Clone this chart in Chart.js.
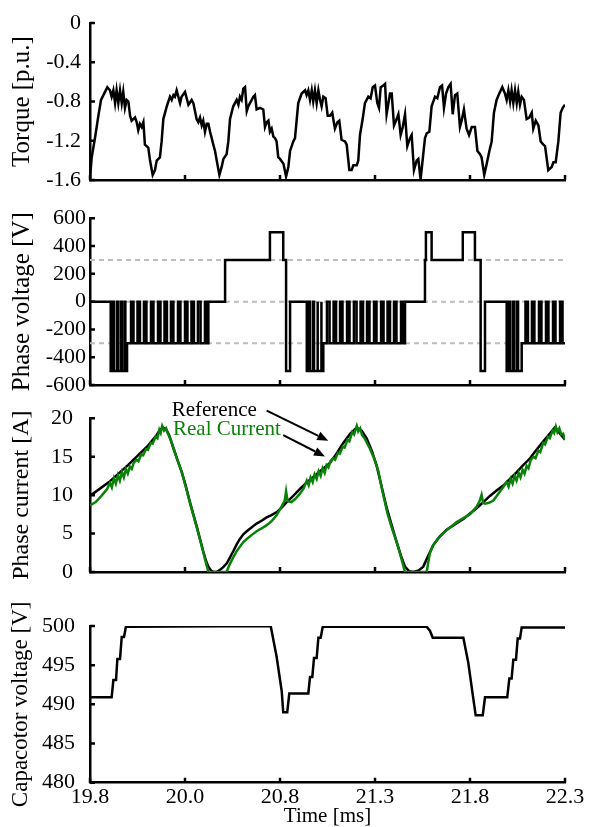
<!DOCTYPE html>
<html><head><meta charset="utf-8">
<script src="https://cdn.jsdelivr.net/npm/chart.js@4.4.1/dist/chart.umd.min.js"></script>
<style>
html,body{margin:0;padding:0;background:#fff;}
body{width:589px;height:827px;position:relative;overflow:hidden;}
canvas{position:absolute;left:0;}
</style></head><body>
<canvas id="c1" width="589" height="200" style="top:0px"></canvas>
<canvas id="c2" width="589" height="200" style="top:200px"></canvas>
<canvas id="c3" width="589" height="210" style="top:390px"></canvas>
<canvas id="c4" width="589" height="227" style="top:600px"></canvas>
<script>
// ---------------- data ----------------
const X_MIN = 19.8, X_MAX = 22.3;
const xTickValues = [19.8, 20.3, 20.8, 21.3, 21.8, 22.3];
const xTickLabels = ['19.8', '20.0', '20.8', '21.3', '21.8', '22.3'];
const xTitle = 'Time [ms]';

const torqueTicks = [0, -0.4, -0.8, -1.2, -1.6];
const torqueTickLabels = ['0', '-0.4', '-0.8', '-1.2', '-1.6'];
const torqueTime = [19.8,19.809,19.826,19.844,19.858,19.879,19.891,19.905,19.914,19.923,19.932,19.940,19.949,19.958,19.967,19.975,19.984,19.993,20.002,20.011,20.019,20.028,20.037,20.046,20.054,20.063,20.072,20.081,20.089,20.098,20.107,20.116,20.130,20.142,20.151,20.168,20.177,20.186,20.204,20.221,20.230,20.239,20.247,20.256,20.274,20.282,20.300,20.318,20.335,20.344,20.361,20.370,20.379,20.388,20.396,20.405,20.414,20.423,20.432,20.449,20.458,20.467,20.481,20.493,20.502,20.519,20.528,20.537,20.554,20.572,20.581,20.589,20.598,20.607,20.616,20.625,20.633,20.642,20.660,20.668,20.677,20.695,20.712,20.721,20.730,20.739,20.747,20.756,20.765,20.774,20.782,20.791,20.800,20.818,20.832,20.844,20.853,20.870,
20.879,20.896,20.914,20.932,20.940,20.949,20.958,20.967,20.975,20.984,20.993,21.002,21.011,21.019,21.028,21.040,21.051,21.063,21.075,21.089,21.102,21.112,21.124,21.142,21.151,21.165,21.177,21.186,21.204,21.212,21.221,21.235,21.247,21.265,21.277,21.288,21.300,21.312,21.321,21.330,21.344,21.353,21.361,21.379,21.388,21.400,21.414,21.423,21.435,21.446,21.458,21.470,21.484,21.493,21.505,21.519,21.528,21.540,21.554,21.563,21.572,21.586,21.598,21.616,21.628,21.642,21.653,21.663,21.674,21.686,21.698,21.709,21.721,21.733,21.747,21.756,21.768,21.782,21.795,21.809,21.826,21.839,21.853,21.861,21.875,21.888,21.902,21.914,21.926,21.940,21.954,21.970,21.984,21.993,22.002,22.011,22.019,22.028,22.037,22.046,22.054,22.063,22.072,22.084,22.098,22.112,22.125,22.133,22.146,22.160,22.172,22.186,22.195,22.212,22.230,22.239,22.251,22.265,22.277,22.288,22.300];
const torqueValue = [-1.580,-1.369,-1.174,-0.946,-0.784,-0.702,-0.654,-0.686,-0.751,-0.686,-0.816,-0.686,-0.816,-0.686,-0.816,-0.702,-0.865,-0.784,-0.800,-0.946,-0.995,-0.979,-0.963,-1.011,-1.093,-1.028,-1.060,-1.011,-1.239,-1.255,-1.272,-1.402,-1.548,-1.499,-1.402,-1.369,-1.207,-0.979,-0.849,-0.751,-0.784,-0.735,-0.751,-0.686,-0.816,-0.751,-0.702,-0.833,-0.784,-0.816,-0.979,-1.011,-0.963,-1.044,-0.995,-1.109,-1.028,-1.028,-1.109,-1.239,-1.304,-1.402,-1.548,-1.467,-1.385,-1.337,-1.207,-0.979,-0.849,-0.784,-0.833,-0.751,-0.784,-0.670,-0.654,-0.898,-0.849,-0.816,-0.751,-0.735,-0.881,-0.865,-0.881,-1.060,-1.011,-0.995,-1.109,-1.076,-1.158,-1.174,-1.207,-1.369,-1.385,-1.434,-1.564,-1.467,-1.304,-1.207,
-1.174,-0.816,-0.719,-0.686,-0.735,-0.686,-0.784,-0.686,-0.800,-0.686,-0.816,-0.686,-0.784,-0.849,-0.751,-0.767,-0.946,-0.946,-0.914,-1.076,-1.011,-0.995,-1.190,-1.207,-1.239,-1.499,-1.499,-1.450,-1.450,-1.402,-1.141,-0.979,-0.816,-0.751,-0.767,-0.654,-0.637,-0.816,-0.865,-0.654,-0.637,-0.621,-0.930,-0.719,-0.719,-1.044,-0.979,-0.930,-1.141,-1.060,-0.930,-1.255,-1.174,-1.141,-1.499,-1.402,-1.385,-1.597,-1.337,-1.174,-1.125,-1.109,-0.849,-0.751,-0.767,-0.654,-0.637,-0.865,-0.719,-0.654,-0.621,-0.930,-0.735,-0.719,-1.060,-0.995,-0.881,-1.076,-1.141,-1.060,-1.060,-1.304,-1.337,-1.369,-1.548,-1.434,-1.304,-1.207,-0.914,-0.784,-0.719,-0.654,-0.719,-0.784,-0.686,-0.800,-0.686,-0.816,-0.686,-0.816,-0.702,-0.833,-0.751,-0.784,-0.979,-0.963,-0.914,-1.076,-0.995,-1.044,-1.207,-1.239,-1.255,-1.499,-1.467,-1.418,-1.418,-1.207,-0.914,-0.865,-0.833];

const voltTicks = [600, 400, 200, 0, -200, -400, -600];
const voltTickLabels = ['600', '400', '200', '0', '-200', '-400', '-600'];
const voltRefLevels = [300, 0, -300];
// switching instants (ms) and the level the phase voltage takes from that instant on (V)
const voltChangeTime = [19.8,19.909,19.921,19.926,19.942,19.947,19.962,19.967,19.981,19.986,19.995,
20.016,20.029,20.050,20.063,20.084,20.097,20.121,20.134,20.158,20.171,20.192,20.205,20.226,20.239,20.263,20.276,20.300,20.313,20.334,20.347,20.368,20.382,20.405,20.413,20.423,
20.511,20.747,20.817,20.832,20.853,
20.941,20.953,20.958,20.974,20.979,20.995,21.000,21.016,21.019,21.028,
21.047,21.061,21.082,21.095,21.116,21.129,21.153,21.166,21.189,21.203,21.224,21.237,21.258,21.271,21.295,21.308,21.332,21.345,21.366,21.379,21.400,21.413,21.437,21.447,21.458,
21.563,21.568,21.598,21.762,21.826,21.856,21.879,
21.993,22.005,22.011,22.026,22.032,22.047,22.053,22.072,
22.092,22.105,22.126,22.139,22.163,22.176,22.200,22.213,22.237,22.250,22.274,22.287,22.300];
const voltChangeValue = [0,-500,0,-500,0,-500,0,-500,0,-500,-300,
0,-300,0,-300,0,-300,0,-300,0,-300,0,-300,0,-300,0,-300,0,-300,0,-300,0,-300,0,-300,0,
300,500,300,-500,0,
-500,0,-500,0,-500,0,-500,0,-500,-300,
0,-300,0,-300,0,-300,0,-300,0,-300,0,-300,0,-300,0,-300,0,-300,0,-300,0,-300,0,-300,0,
300,500,300,500,300,-500,0,
-500,0,-500,0,-500,0,-500,-300,
0,-300,0,-300,0,-300,0,-300,0,-300,0,-300,-300];

const currentTicks = [20, 15, 10, 5, 0];
const currentTickLabels = ['20', '15', '10', '5', '0'];
const refCurrentTime = [19.8,19.9,20.0,20.1,20.15,20.168,20.185,20.2,20.215,20.238,20.26,20.283,20.305,20.326,20.345,20.362,20.38,20.396,20.41,20.423,20.437,20.45,20.465,20.48,20.5,20.519,20.537,20.554,20.572,20.589,20.607,20.625,20.65,20.677,20.705,20.73,20.755,20.783,20.81,20.835,20.87,20.905,20.941,21.0,21.063,21.1,21.133,21.17,21.204,21.23,21.256,21.283,21.309,21.335,21.362,21.39,21.414,21.437,21.458,21.48,21.502,21.53,21.554,21.58,21.607,21.64,21.677,21.72,21.765,21.8,21.835,21.87,21.905,21.94,21.975,22.01,22.046,22.08,22.116,22.15,22.186,22.22,22.247,22.274,22.3];
const refCurrentValue = [9.9,11.7,13.9,16.3,17.8,18.5,18.8,18.6,17.9,16.2,14.6,13.0,11.1,9.1,7.4,5.9,4.2,2.7,1.5,0.7,0.2,0.0,0.0,0.2,0.6,1.1,1.9,2.7,3.6,4.3,4.9,5.3,5.8,6.3,6.7,7.1,7.4,7.8,8.4,9.1,9.9,10.8,11.65,12.9,14.2,15.5,16.8,18.0,18.8,18.4,17.4,15.8,13.8,11.1,8.3,5.9,3.9,2.1,0.7,0.1,0.0,0.2,0.7,2.1,3.5,4.6,5.5,6.2,6.9,7.6,8.3,9.1,9.9,10.6,11.25,12.1,13.0,13.9,14.8,15.9,17.0,18.0,18.8,18.0,17.2];
const realCurrentTime = [19.8,19.83,19.86,19.89,19.905,19.915,19.926,19.936,19.947,19.957,19.968,19.978,19.989,19.999,20.01,20.02,20.03,20.045,20.055,20.07,20.08,20.095,20.105,20.12,20.13,20.145,20.155,20.165,20.172,20.18,20.19,20.2,20.21,20.225,20.238,20.26,20.283,20.305,20.326,20.345,20.362,20.38,20.396,20.41,20.423,20.519,20.535,20.554,20.572,20.589,20.607,20.625,20.65,20.677,20.705,20.73,20.755,20.783,20.81,20.825,20.832,20.84,20.86,20.88,20.905,20.925,20.941,20.951,20.961,20.972,20.982,20.993,21.003,21.014,21.024,21.035,21.045,21.055,21.065,21.08,21.09,21.105,21.115,21.13,21.14,21.155,21.165,21.18,21.19,21.204,21.212,21.222,21.232,21.245,21.274,21.295,21.317,21.34,21.367,21.39,21.414,21.437,21.458,21.572,21.589,21.606,21.63,21.661,21.695,21.73,21.765,21.8,21.835,21.85,21.861,21.869,21.879,21.9,21.923,21.95,21.975,21.993,22.003,22.014,22.024,22.035,22.045,22.056,22.066,22.077,22.087,22.098,22.108,22.12,22.135,22.145,22.16,22.17,22.185,22.195,22.21,22.22,22.235,22.243,22.252,22.26,22.27,22.28,22.29,22.3];
const realCurrentValue = [8.67,9.1,9.9,10.8,11.6,11.0,12.2,11.5,12.6,11.9,13.0,12.3,13.4,12.8,13.7,13.4,14.2,14.6,14.4,15.3,15.2,16.0,15.9,16.8,16.7,17.6,17.4,18.5,18.1,19.0,18.4,18.7,18.0,17.2,16.2,14.6,13.0,11.0,9.0,7.3,5.8,4.1,2.6,1.2,0.0,0.0,1.0,1.9,2.7,3.3,3.9,4.3,4.8,5.3,5.7,6.1,6.6,7.4,8.6,9.3,10.5,9.2,9.1,9.5,10.2,10.9,11.9,11.3,12.3,11.7,12.7,12.1,13.1,12.5,13.5,12.9,13.9,13.6,14.4,14.8,14.6,15.5,15.4,16.3,16.2,17.2,17.0,18.2,17.9,19.0,18.3,18.7,17.8,17.4,16.0,14.8,13.2,10.4,7.5,5.6,3.9,1.9,0.0,0.0,2.5,3.5,4.3,5.1,5.8,6.5,7.0,7.5,8.5,9.2,10.05,9.0,8.9,9.0,9.3,10.2,11.05,11.7,11.1,12.1,11.5,12.5,11.9,12.9,12.3,13.3,12.8,13.8,13.5,14.6,15.0,14.8,15.8,15.6,16.8,16.6,17.6,17.4,18.4,18.1,18.9,18.2,18.7,17.9,18.0,17.2];
const noteRefText = 'Reference', noteRealText = 'Real Current';
const noteRefAt = [20.230, 20.31], noteRealAt = [20.237, 17.81];
const arrowRefFrom = [20.730, 20.99], arrowRefTo = [21.054, 17.09];
const arrowRealFrom = [20.817, 17.81], arrowRealTo = [21.037, 15.03];

const capTicks = [500, 495, 490, 485, 480];
const capTickLabels = ['500', '495', '490', '485', '480'];
const capTime = [19.8,19.914,19.923,19.937,19.944,19.958,19.967,19.979,19.989,20.751,20.782,20.809,20.817,20.838,20.849,20.949,20.958,20.970,20.979,20.993,21.002,21.014,21.025,21.572,21.589,21.604,21.765,21.791,21.814,21.830,21.867,21.879,21.996,22.007,22.019,22.028,22.042,22.051,22.063,22.072,22.3];
const capValue = [490.9,490.9,493.1,493.1,495.8,495.8,498.6,498.6,499.9,500.0,496.1,491.7,489.0,489.0,491.4,491.4,493.5,493.5,495.9,495.9,498.5,498.5,499.9,499.9,499.4,498.5,498.5,495.3,491.3,488.6,488.6,490.9,490.9,493.3,493.3,495.7,495.7,498.4,498.4,499.8,499.8];

// ---------------- helpers ----------------
const FONT = "'Liberation Serif','Times New Roman',serif";
const GREEN = '#0a820a';
function pts(ts, vs) { const n = Math.min(ts.length, vs.length), a = []; for (let i = 0; i < n; i++) a.push({x: ts[i], y: vs[i]}); return a; }
function stepPts(ts, vs) { const n = Math.min(ts.length, vs.length), a = []; for (let i = 0; i < n; i++) { if (i > 0) a.push({x: ts[i], y: vs[i - 1]}); a.push({x: ts[i], y: vs[i]}); } return a; }
function hLine(level) { return [{x: X_MIN, y: level}, {x: X_MAX, y: level}]; }

const inwardTicks = {
  id: 'inwardTicks',
  afterDraw(chart) {
    const ctx = chart.ctx, ca = chart.chartArea, xs = chart.scales.x, ys = chart.scales.y;
    ctx.save(); ctx.strokeStyle = '#000'; ctx.lineWidth = 2.5; ctx.beginPath();
    xs.ticks.forEach(t => { const p = xs.getPixelForValue(t.value); ctx.moveTo(p, ca.bottom); ctx.lineTo(p, ca.bottom - 5); });
    ys.ticks.forEach(t => { const p = ys.getPixelForValue(t.value); ctx.moveTo(ca.left, p); ctx.lineTo(ca.left + 5, p); });
    ctx.stroke(); ctx.restore();
  }
};
function arrow(ctx, a, b) {
  const ang = Math.atan2(b[1] - a[1], b[0] - a[0]), L = 11, W = 4.5;
  const bx = b[0] - L * Math.cos(ang), by = b[1] - L * Math.sin(ang);
  ctx.strokeStyle = '#000'; ctx.lineWidth = 2; ctx.beginPath(); ctx.moveTo(a[0], a[1]); ctx.lineTo(bx, by); ctx.stroke();
  ctx.fillStyle = '#000'; ctx.beginPath(); ctx.moveTo(b[0], b[1]);
  ctx.lineTo(bx - W * Math.sin(ang), by + W * Math.cos(ang)); ctx.lineTo(bx + W * Math.sin(ang), by - W * Math.cos(ang)); ctx.closePath(); ctx.fill();
}
const currentNotes = {
  id: 'currentNotes',
  afterDraw(chart) {
    const ctx = chart.ctx, xs = chart.scales.x, ys = chart.scales.y;
    const P = a => [xs.getPixelForValue(a[0]), ys.getPixelForValue(a[1])];
    ctx.save(); ctx.font = '21px ' + FONT; ctx.textAlign = 'left'; ctx.textBaseline = 'alphabetic';
    let p = P(noteRefAt); ctx.fillStyle = '#000'; ctx.fillText(noteRefText, p[0], p[1]);
    p = P(noteRealAt); ctx.fillStyle = GREEN; ctx.fillText(noteRealText, p[0], p[1]);
    arrow(ctx, P(arrowRefFrom), P(arrowRefTo)); arrow(ctx, P(arrowRealFrom), P(arrowRealTo));
    ctx.restore();
  }
};

function makeChart(id, o) {
  return new Chart(document.getElementById(id), {
    type: 'line',
    data: {datasets: o.datasets},
    options: {
      responsive: false, animation: false, events: [],
      layout: {padding: {top: o.padTop, bottom: o.padBottom, left: 0, right: 24}},
      plugins: {legend: {display: false}, tooltip: {enabled: false}},
      elements: {point: {radius: 0}, line: {tension: 0, borderWidth: 2.5, borderJoinStyle: 'miter', borderCapStyle: 'butt', fill: false}},
      scales: {
        x: {
          type: 'linear', min: X_MIN, max: X_MAX,
          afterFit: s => { s.height = o.xHeight; },
          afterBuildTicks: s => { s.ticks = xTickValues.map(v => ({value: v})); },
          grid: {display: true, drawOnChartArea: false, drawTicks: false},
          border: {display: true, color: '#000', width: 2.5},
          ticks: {display: !!o.xLabels, padding: 4, color: '#000', maxRotation: 0, autoSkip: false,
            font: {family: FONT, size: 22, lineHeight: 1}, callback: v => xTickLabels[xTickValues.indexOf(v)]},
          title: {display: !!o.xLabels, text: xTitle, color: '#000', font: {family: FONT, size: 21, lineHeight: 1}, padding: {top: 0, bottom: 0.5}}
        },
        y: {
          type: 'linear', min: o.yMin, max: o.yMax,
          afterFit: s => { s.width = 90; },
          afterBuildTicks: s => { s.ticks = o.yTicks.map(v => ({value: v})); },
          grid: {display: true, drawOnChartArea: false, drawTicks: false},
          border: {display: true, color: '#000', width: 2.5},
          ticks: {padding: o.yPad, color: '#000', font: {family: FONT, size: 22, lineHeight: 1},
            callback: v => o.yLabels[o.yTicks.indexOf(v)]},
          title: {display: true, text: o.yTitle, color: '#000', font: {family: FONT, size: o.titleSize, lineHeight: 1}, padding: {top: 9.5, bottom: 0}}
        }
      }
    },
    plugins: [inwardTicks].concat(o.plugins || [])
  });
}

makeChart('c1', {
  padTop: 23, padBottom: 13, xHeight: 0, yMin: -1.6, yMax: 0, yTicks: torqueTicks, yLabels: torqueTickLabels,
  yPad: 9, yTitle: 'Torque [p.u.]', titleSize: 25,
  datasets: [{data: pts(torqueTime, torqueValue), borderColor: '#000'}]
});
makeChart('c2', {
  padTop: 18.3, padBottom: 15, xHeight: 0, yMin: -600, yMax: 600, yTicks: voltTicks, yLabels: voltTickLabels,
  yPad: 4, yTitle: 'Phase voltage [V]', titleSize: 25,
  datasets: [{data: stepPts(voltChangeTime, voltChangeValue), borderColor: '#000'}]
    .concat(voltRefLevels.map(l => ({data: hLine(l), borderColor: '#bdbdbd', borderWidth: 2, borderDash: [5, 4]})))
});
makeChart('c3', {
  padTop: 28.3, padBottom: 14, xHeight: 0, yMin: 0, yMax: 20, yTicks: currentTicks, yLabels: currentTickLabels,
  yPad: 17, yTitle: 'Phase current [A]', titleSize: 24,
  datasets: [
    {data: pts(realCurrentTime, realCurrentValue), borderColor: GREEN},
    {data: pts(refCurrentTime, refCurrentValue), borderColor: '#000'}
  ],
  plugins: [currentNotes]
});
makeChart('c4', {
  padTop: 18.3, padBottom: 0, xHeight: 44.3, xLabels: true, yMin: 480, yMax: 500, yTicks: capTicks, yLabels: capTickLabels,
  yPad: 15, yTitle: 'Capacotor voltage [V]', titleSize: 23,
  datasets: [{data: pts(capTime, capValue), borderColor: '#000'}]
});
</script>
</body></html>
